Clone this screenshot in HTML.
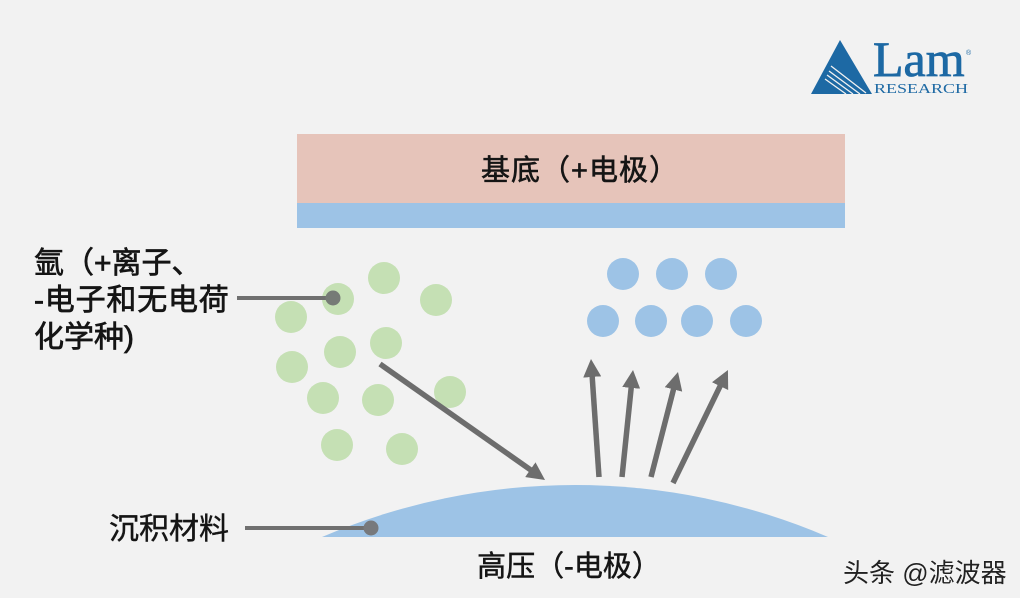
<!DOCTYPE html>
<html><head><meta charset="utf-8"><style>
html,body{margin:0;padding:0;background:#fff;}
svg{display:block;}
.t{font-family:"Liberation Sans","Noto Sans CJK SC",sans-serif;font-weight:normal;fill:#151515;stroke:#151515;}
</style></head><body>
<svg width="1020" height="602" viewBox="0 0 1020 602" xmlns="http://www.w3.org/2000/svg">
<defs>
<marker id="ah" markerUnits="userSpaceOnUse" markerWidth="18" markerHeight="18" refX="6" refY="9" orient="auto">
<path d="M0,0 L18,9 L0,18 z" fill="#6d6d6d"/>
</marker>
</defs>
<rect x="0" y="0" width="1020" height="598" fill="#f2f2f2"/>
<rect x="0" y="598" width="1020" height="4" fill="#ffffff"/>

<!-- logo -->
<polygon points="811,94 840,40 872,94" fill="#1d69a4"/>
<g stroke="#f2f2f2" stroke-width="1.3">
<line x1="831" y1="66" x2="866" y2="93"/>
<line x1="829" y1="71" x2="860" y2="94"/>
<line x1="827" y1="75" x2="853" y2="94"/>
<line x1="825" y1="79" x2="846" y2="94"/>
</g>
<text x="873" y="76" font-family="Liberation Serif, serif" font-size="50" fill="#1d69a4" stroke="#1d69a4" stroke-width="0.8">Lam</text>
<text x="966" y="55" font-family="Liberation Sans, sans-serif" font-size="7" fill="#1d69a4">®</text>
<text x="874" y="93" font-family="Liberation Serif, serif" font-size="13.5" fill="#1d69a4" textLength="94" lengthAdjust="spacingAndGlyphs">RESEARCH</text>

<!-- substrate -->
<rect x="297" y="134" width="548" height="69" fill="#e6c4ba"/>
<rect x="297" y="203" width="548" height="25" fill="#9dc3e6"/>
<text class="t" x="580" y="180" font-size="29" letter-spacing="1" text-anchor="middle" stroke-width="0.6">基底（+电极）</text>

<!-- green particles -->
<g fill="#c5e0b4">
<circle cx="384" cy="278" r="16"/>
<circle cx="338" cy="299" r="16"/>
<circle cx="436" cy="300" r="16"/>
<circle cx="291" cy="317" r="16"/>
<circle cx="340" cy="352" r="16"/>
<circle cx="386" cy="343" r="16"/>
<circle cx="292" cy="367" r="16"/>
<circle cx="323" cy="398" r="16"/>
<circle cx="378" cy="400" r="16"/>
<circle cx="450" cy="392" r="16"/>
<circle cx="337" cy="445" r="16"/>
<circle cx="402" cy="449" r="16"/>
</g>

<!-- blue particles -->
<g fill="#9dc3e6">
<circle cx="623" cy="274" r="16"/>
<circle cx="672" cy="274" r="16"/>
<circle cx="721" cy="274" r="16"/>
<circle cx="603" cy="321" r="16"/>
<circle cx="651" cy="321" r="16"/>
<circle cx="697" cy="321" r="16"/>
<circle cx="746" cy="321" r="16"/>
</g>

<!-- dome -->
<path d="M322,537 A641.5,641.5 0 0 1 828,537 Z" fill="#9dc3e6"/>

<!-- arrows -->
<g stroke="#6d6d6d" stroke-width="5.5" fill="none" marker-end="url(#ah)">
<line x1="380" y1="364" x2="535.2" y2="473.1"/>
<line x1="599" y1="477" x2="591.8" y2="371"/>
<line x1="622" y1="477" x2="631.8" y2="381.9"/>
<line x1="651" y1="477" x2="675" y2="383.6"/>
<line x1="673" y1="483" x2="722.7" y2="380.8"/>
</g>

<!-- pointer lines -->
<line x1="237" y1="298" x2="333" y2="298" stroke="#707070" stroke-width="4"/>
<circle cx="333" cy="298" r="7.5" fill="#767b76"/>
<line x1="245" y1="528" x2="371" y2="528" stroke="#707070" stroke-width="4"/>
<circle cx="371" cy="528" r="7.5" fill="#77797c"/>

<!-- labels -->
<text class="t" x="34" y="273" font-size="30" stroke-width="0.7">氩（+离子、</text>
<text class="t" x="34" y="310" font-size="30" letter-spacing="0.8" stroke-width="0.7">-电子和无电荷</text>
<text class="t" x="34" y="347" font-size="30" stroke-width="0.7">化学种)</text>
<text class="t" x="109" y="539" font-size="30" stroke-width="0.4">沉积材料</text>
<text class="t" x="569" y="576" font-size="29" text-anchor="middle" stroke-width="0.5">高压（-电极）</text>

<!-- watermark -->
<text x="843" y="582" font-family="Liberation Sans, Noto Sans CJK SC, sans-serif" font-size="26" fill="#222" stroke="#ffffff" stroke-width="0.6" paint-order="stroke">头条 @滤波器</text>
</svg>
</body></html>
